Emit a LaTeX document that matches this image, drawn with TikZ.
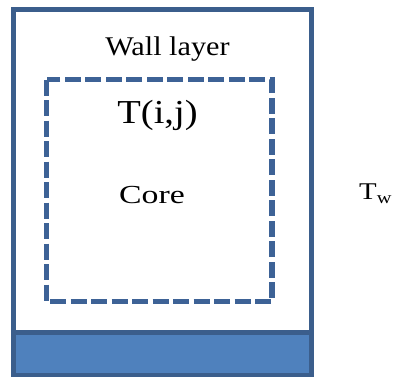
\documentclass[tikz,border=0pt]{standalone}
\usepackage{fontspec}
\setmainfont{Liberation Serif}
\definecolor{edgeblue}{HTML}{3B5E8C}
\definecolor{fillblue}{HTML}{4F81BD}
\definecolor{dashblue}{HTML}{3D6296}
\begin{document}
\begin{tikzpicture}[x=1pt,y=-1pt,
  wall/.style={draw=edgeblue,line width=5pt},
  corebox/.style={draw=dashblue,line width=5.5pt,dash pattern=on 16pt off 4.5pt},
  lbl/.style={inner sep=0pt,anchor=base,text=black}]
\useasboundingbox (0,0) rectangle (393,376);
\fill[fillblue] (13,332) rectangle (311,375);
\draw[wall] (13,332) -- (311,332);
\draw[wall] (13,9.5) rectangle (311,375);
\draw[corebox] (46.5,79.5) rectangle (272,301.5);
\node[lbl,xscale=1.12] (wall) at (167.5,55) {\fontsize{27}{30}\selectfont Wall layer};
\node[lbl,xscale=1.15] (tij) at (157.5,123) {\fontsize{33.5}{38}\selectfont T(i,j)};
\node[lbl,xscale=1.3] (core) at (152,203) {\fontsize{26}{30}\selectfont Core};
\node[lbl,anchor=base west,xscale=1.2] (tw) at (359,199) {\fontsize{24}{27}\selectfont T\raisebox{-4pt}{\fontsize{17}{19}\selectfont w}};
\end{tikzpicture}
\end{document}
